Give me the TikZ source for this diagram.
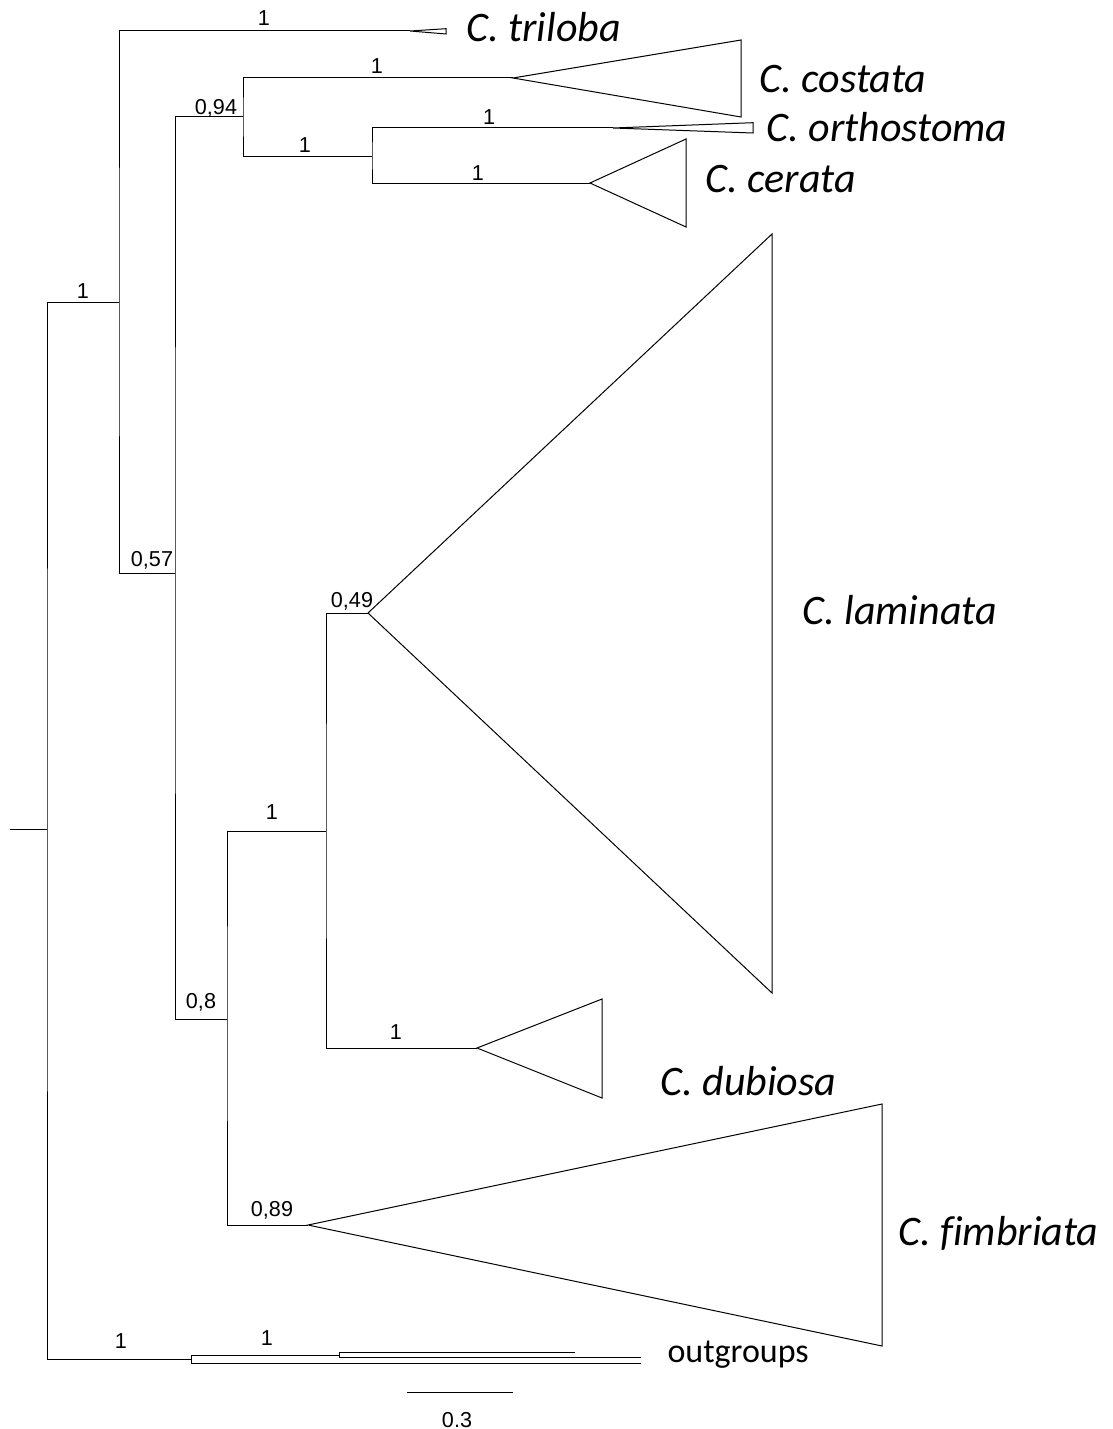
\documentclass[tikz,border=0pt]{standalone}
\usepackage{fontspec}
\setmainfont{Liberation Sans}
\newfontfamily\calibri[Ligatures=NoCommon]{Carlito}

\begin{document}
\begin{tikzpicture}[x=0.5pt,y=-0.5pt,
  every path/.style={line width=0.5pt, line join=miter},
  support/.style={font=\fontsize{10.8}{12}\selectfont, anchor=base, inner sep=0pt},
  taxon/.style={font=\calibri\itshape\fontsize{21}{24}\selectfont, anchor=base west, inner sep=0pt},
  plainlabel/.style={font=\calibri\fontsize{17}{20}\selectfont, anchor=base west, inner sep=0pt}]

\useasboundingbox (0,0) rectangle (1113,1429);

% internal nodes (where the parent branch meets the vertical bar)
\coordinate (stub) at (10,829);
\coordinate (root) at (47,829);
\coordinate (na) at (119,302);
\coordinate (nb) at (175,573);
\coordinate (nc) at (243,117);
\coordinate (nd) at (227,1019);
\coordinate (ne) at (372,156);
\coordinate (nf) at (326,831);
\coordinate (og) at (191,1359);

% tips of the collapsed clades
\coordinate (tri) at (410,31);
\coordinate (cos) at (513,78);
\coordinate (ort) at (613,128);
\coordinate (cer) at (590,183);
\coordinate (lam) at (368,613);
\coordinate (dub) at (477,1048);
\coordinate (fim) at (308,1225);

% branches
\draw (stub) -- (root);
\draw (na) -| (root) |- (og);
\draw (tri) -| (na) |- (nb);
\draw (nc) -| (nb) |- (nd);
\draw (cos) -| (nc) |- (ne);
\draw (ort) -| (ne) |- (cer);
\draw (nf) -| (nd) |- (fim);
\draw (lam) -| (nf) |- (dub);

% collapsed clades
\draw (tri) -- (446,28.7) -- (446,34) -- cycle;
\draw (cos) -- (741,40) -- (741,117) -- cycle;
\draw (ort) -- (753,122.7) -- (753,133) -- cycle;
\draw (cer) -- (686,139) -- (686,227) -- cycle;
\draw (lam) -- (772,234) -- (772,993) -- cycle;
\draw (dub) -- (602,999) -- (602,1098) -- cycle;
\draw (fim) -- (882,1104) -- (882,1346) -- cycle;

% outgroups
\coordinate (og2) at (339,1355);
\draw (og) -- (191,1355) -- (og2);
\draw (og) -- (191,1363) -- (641,1363);
\draw (339,1352) -- (339,1357.3);
\draw (339,1352) -- (575,1352);
\draw (339,1357.3) -- (641,1357.3);

% scale bar
\coordinate (sb1) at (407,1392);
\coordinate (sb2) at (513,1392);
\draw (sb1) -- (sb2);
\node[support] (sbl) at (457,1427) {0.3};

% support values
\node[support] (s1) at (83,298) {1};
\node[support] (s2) at (264,26) {1};
\node[support] (s3) at (152,566) {0,57};
\node[support] (s4) at (216,114) {0,94};
\node[support] (s5) at (377,74) {1};
\node[support] (s6) at (305,152.7) {1};
\node[support] (s7) at (489,125) {1};
\node[support] (s8) at (478,180) {1};
\node[support] (s9) at (352,607) {0,49};
\node[support] (s10) at (272,819) {1};
\node[support] (s11) at (201,1008) {0,8};
\node[support] (s12) at (396,1039) {1};
\node[support] (s13) at (272,1216) {0,89};
\node[support] (s14) at (121,1348) {1};
\node[support] (s15) at (267,1345) {1};

% clade names
\node[taxon] (ltri) at (466,41.7) {C. triloba};
\node[taxon] (lcos) at (759,93) {C. costata};
\node[taxon] (lort) at (766,141) {C. orthostoma};
\node[taxon] (lcer) at (705,192) {C. cerata};
\node[taxon] (llam) at (802,624) {C. laminata};
\node[taxon] (ldub) at (660,1095) {C. dubiosa};
\node[taxon] (lfim) at (898,1245) {C. f\kern0pt imbriata};
\node[plainlabel] (log) at (667,1362) {outgroups};
\end{tikzpicture}
\end{document}
